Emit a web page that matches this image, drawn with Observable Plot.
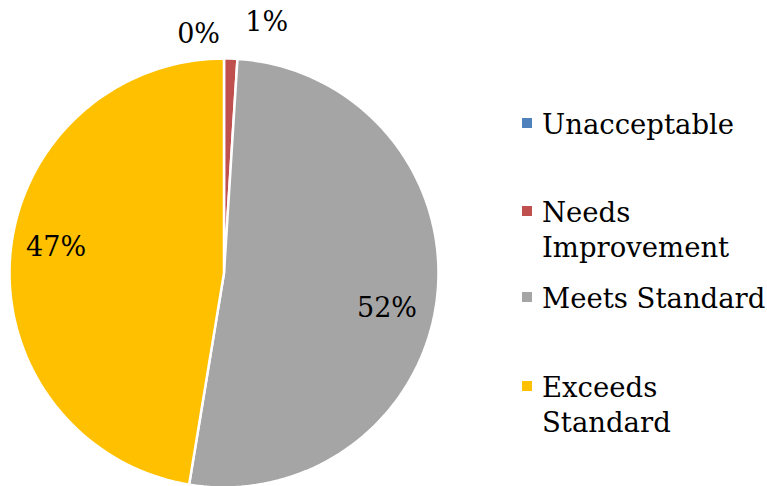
<!DOCTYPE html>
<html><head><meta charset="utf-8">
<script src="https://cdn.jsdelivr.net/npm/d3@7"></script>
<script src="https://cdn.jsdelivr.net/npm/@observablehq/plot@0.6"></script>
<style>
body{margin:0;background:#fff;}
#chart{position:relative;width:767px;height:486px;overflow:hidden;font-family:"DejaVu Serif";}
#chart svg{position:absolute;left:0;top:0;}
.item{position:absolute;left:522px;}
.sw{position:absolute;left:0;top:11px;width:10px;height:10px;}
.lab{position:absolute;left:20px;top:0;width:228px;font-size:27.5px;line-height:35px;color:#000;white-space:normal;}
</style></head><body><div id="chart"></div>
<script>
// data
const categories = ["Unacceptable", "Needs Improvement", "Meets Standard", "Exceeds Standard"];
const values = [0, 1.0, 51.6, 47.4];
const colors = ["#4F81BD", "#C0504D", "#A5A5A5", "#FFC000"];

// layout (label angle tweak in degrees, radial factor) and legend row tops
const labelTweak = [{da: -6.3, k: 1.079}, {da: 8.2, k: 1.146}, {da: 8.6, k: 0.787}, {da: 1.1, k: 0.787}];
const legendTops = [107, 194.5, 281, 369.5];

const total = d3.sum(values);
let acc = 0;
const slices = categories.map((c, i) => {
  const f0 = acc / total; acc += values[i]; const f1 = acc / total;
  return {category: c, value: values[i], f0, f1, pct: Math.round(values[i] / total * 100) + "%"};
});
const lon = f => 180 - 360 * f;
const features = slices.filter(s => s.value > 0).map(s => {
  const n = Math.max(2, Math.ceil((s.f1 - s.f0) * 360 / 2));
  const ring = [[lon((s.f0 + s.f1) / 2), 89.9999]];
  for (let j = 0; j <= n; j++) ring.push([lon(s.f0 + (s.f1 - s.f0) * j / n), 0]);
  ring.push(ring[0]);
  return {type: "Feature", properties: {category: s.category}, geometry: {type: "Polygon", coordinates: [ring]}};
});
const labels = slices.map((s, i) => {
  const ang = (s.f0 + s.f1) / 2 * 360 + labelTweak[i].da;
  return {lon: 180 - ang, lat: 90 - 90 * labelTweak[i].k, text: s.pct};
});

const plot = Plot.plot({
  width: 767, height: 486,
  marginLeft: 9, marginRight: 329, marginTop: 58, marginBottom: -1,
  projection: {type: "azimuthal-equidistant", rotate: [0, -90], domain: d3.geoCircle().center([0, 90]).radius(90)(), clip: false},
  color: {domain: categories, range: colors},
  style: {fontFamily: "DejaVu Serif", background: "transparent", overflow: "visible"},
  marks: [
    Plot.geo(features, {fill: d => d.properties.category, stroke: "white", strokeWidth: 2.5}),
    Plot.text(labels, {x: "lon", y: "lat", text: "text", fontSize: 27, lineAnchor: "bottom", fill: "black"})
  ]
});
const chart = document.getElementById("chart");
chart.appendChild(plot);

categories.forEach((c, i) => {
  const item = document.createElement("div");
  item.className = "item";
  item.style.top = legendTops[i] + "px";
  const sw = document.createElement("span");
  sw.className = "sw";
  sw.style.background = colors[i];
  const lab = document.createElement("div");
  lab.className = "lab";
  lab.textContent = c;
  item.appendChild(sw); item.appendChild(lab);
  chart.appendChild(item);
});
</script></body></html>
